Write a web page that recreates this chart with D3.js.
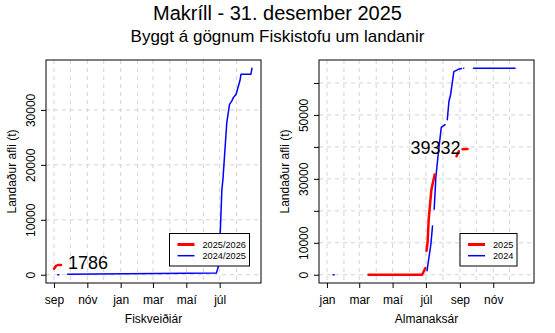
<!DOCTYPE html>
<html><head><meta charset="utf-8">
<script src="https://cdn.jsdelivr.net/npm/d3@7"></script>
<style>body{margin:0;background:#fff} svg{display:block;font-family:"Liberation Sans",Arial,Helvetica,sans-serif}</style>
</head><body><svg id="c" width="555" height="333"></svg>
<script>
const titleText = "Makríll - 31. desember 2025";
const subtitleText = "Byggt á gögnum Fiskistofu um landanir";
const monthLabels = ["jan","feb","mar","apr","maí","jún","júl","ágú","sep","okt","nóv","des"];
const yTitle = "Landaður afli (t)";

// Left panel: fishing year (Sep - Aug)
const fy2526Dates = ["2025-09-01","2025-09-05","2025-09-06","2025-09-08","2025-09-14"];
const fy2526Values = [1090, 1640, null, 1760, 1786];
const fy2425Dates = ["2024-09-08","2024-09-10","2024-09-11","2024-09-26","2025-06-25","2025-06-29","2025-07-02","2025-07-05","2025-07-07","2025-07-14","2025-07-19","2025-07-23","2025-07-26","2025-07-31","2025-08-07","2025-08-09","2025-08-27","2025-08-29"];
const fy2425Values = [0, 0, null, 100, 300, 1640, 7580, 15450, 17400, 27700, 31000, 31600, 32240, 32850, 35300, 36480, 36480, 37580];
const leftYTicks = [0, 10000, 20000, 30000];
const leftYLabels = [0, 10000, 20000, 30000];
const leftLegend = ["2025/2026", "2024/2025"];
const leftXTitle = "Fiskveiðiár";

// Right panel: calendar year
const cal2025Dates = ["2025-03-18","2025-06-24","2025-06-30","2025-07-01","2025-07-02","2025-07-04","2025-07-06","2025-07-11","2025-07-13","2025-07-17","2025-07-18","2025-08-26","2025-08-30","2025-08-31","2025-09-06","2025-09-15"];
const cal2025Values = [0, 0, 2090, null, 7480, 10100, 17350, 26700, 28260, 31370, null, 37070, 38630, null, 39300, 39332];
const cal2024Dates = ["2024-01-12","2024-01-14","2024-01-15","2024-07-03","2024-07-10","2024-07-13","2024-07-14","2024-07-16","2024-07-18","2024-07-19","2024-07-24","2024-07-29","2024-08-05","2024-08-07","2024-08-09","2024-08-12","2024-08-15","2024-08-21","2024-08-31","2024-09-04","2024-09-05","2024-09-08","2024-09-09","2024-09-26","2024-12-11"];
const cal2024Values = [0, 0, null, 1250, 9560, 15260, null, 20470, 26700, 30340, 38630, 46100, 46950, null, 48500, 54200, 56300, 63550, 64400, 64500, null, 64600, null, 64600, 64600];
const rightYTicks = [0, 10000, 20000, 30000, 40000, 50000, 60000];
const rightYLabels = [0, 10000, 30000, 50000];
const rightLegend = ["2025", "2024"];
const rightXTitle = "Almanaksár";

const parse = d3.timeParse("%Y-%m-%d");
const svg = d3.select("#c");
svg.append("rect").attr("width",555).attr("height",333).attr("fill","#fff");
svg.append("text").attr("x",277.5).attr("y",19.5).attr("text-anchor","middle").attr("font-size",20).text(titleText);
svg.append("text").attr("x",277.5).attr("y",41.5).attr("text-anchor","middle").attr("font-size",17).text(subtitleText);

const TOP = 60, BOT = 283;

function panel(cfg){
  const g = svg.append("g");
  const xs = parse(cfg.start), xe = parse(cfg.end);
  const pad = (xe - xs) * 0.04;
  const x = d3.scaleTime().domain([new Date(+xs - pad), new Date(+xe + pad)]).range([cfg.L, cfg.R]);
  const series = cfg.series.map(s => s.dates.map((d,i) => ({date: d3.timeYear.offset(parse(d), s.shift), v: s.values[i]})));
  const ymax = d3.max(series.flat(), d => d.v);
  const y = d3.scaleLinear().domain([-0.04*ymax, 1.04*ymax]).range([BOT, TOP]);

  // grid
  const months = d3.timeMonth.range(xs, d3.timeDay.offset(xe,1));
  g.selectAll(".vg").data(months).join("line")
    .attr("x1", d=>x(d)).attr("x2", d=>x(d)).attr("y1",TOP).attr("y2",BOT)
    .attr("stroke","#d3d3d3").attr("stroke-dasharray","4,4");
  g.selectAll(".hg").data(cfg.yTicks).join("line")
    .attr("x1",cfg.L).attr("x2",cfg.R).attr("y1",d=>y(d)).attr("y2",d=>y(d))
    .attr("stroke","#d3d3d3").attr("stroke-dasharray","4,4");

  // lines
  const line = d3.line().defined(d => d.v != null).x(d => x(d.date)).y(d => y(d.v));
  const order = [1,0];
  order.forEach(i => {
    g.append("path").datum(series[i]).attr("d", line).attr("fill","none")
      .attr("stroke", cfg.series[i].color).attr("stroke-width", cfg.series[i].width)
      .attr("stroke-linecap","round").attr("stroke-linejoin","round");
  });

  // value label for first series
  const last = series[0].filter(d => d.v != null).slice(-1)[0];
  g.append("text").attr("x", x(last.date) + (cfg.labelSide === "right" ? 7 : -7))
    .attr("y", y(last.v) + 4.5).attr("font-size",18)
    .attr("text-anchor", cfg.labelSide === "right" ? "start" : "end").text(last.v);

  // axes
  const ticks = months.filter((d,i) => i % 2 === 0);
  const xa = g.append("g").attr("transform",`translate(0,${BOT})`)
    .call(d3.axisBottom(x).tickValues(ticks).tickSize(5).tickSizeOuter(0).tickFormat(d => monthLabels[d.getMonth()]));
  xa.select(".domain").remove();
  xa.attr("color","#000").selectAll("text").attr("font-size",12).attr("y",12.5).attr("font-family",null);
  xa.attr("font-family",null);
  const ya = g.append("g").attr("transform",`translate(${cfg.L},0)`)
    .call(d3.axisLeft(y).tickValues(cfg.yTicks).tickSize(5).tickSizeOuter(0).tickFormat(d => cfg.yLabels.includes(d) ? String(d) : ""));
  ya.select(".domain").remove();
  ya.attr("color","#000").attr("font-family",null);
  ya.selectAll("text").attr("font-size",12).attr("transform","rotate(-90)")
    .attr("x",0).attr("y",-11).attr("dy",0).attr("text-anchor","middle");

  // box
  g.append("rect").attr("x",cfg.L).attr("y",TOP).attr("width",cfg.R-cfg.L).attr("height",BOT-TOP)
    .attr("fill","none").attr("stroke","#000").attr("stroke-width",1);

  // titles
  g.append("text").attr("x",(cfg.L+cfg.R)/2).attr("y",323).attr("text-anchor","middle").attr("font-size",12).text(cfg.xTitle);
  g.append("text").attr("transform",`translate(${cfg.L-30},${(TOP+BOT)/2}) rotate(-90)`)
    .attr("text-anchor","middle").attr("font-size",12).text(yTitle);

  // legend
  const lg = g.append("g");
  lg.append("rect").attr("x",cfg.legX).attr("y",233.5).attr("width",cfg.legW).attr("height",32.5)
    .attr("fill","#fff").attr("stroke","#000").attr("stroke-width",1);
  cfg.legend.forEach((t,i) => {
    const yy = 244.5 + i*11.2;
    lg.append("line").attr("x1",cfg.legX+8).attr("x2",cfg.legX+25).attr("y1",yy).attr("y2",yy)
      .attr("stroke",cfg.series[i].color).attr("stroke-width", i===0 ? 3 : 1.5);
    lg.append("text").attr("x",cfg.legX+33).attr("y",yy+3.3).attr("font-size",9.2).attr("fill","#000").text(t);
  });
}

panel({L:46, R:261, start:"2024-09-01", end:"2025-08-31",
  series:[{dates:fy2526Dates, values:fy2526Values, shift:-1, color:"#ff0000", width:2.5},
          {dates:fy2425Dates, values:fy2425Values, shift:0, color:"#0000ff", width:1.5}],
  yTicks:leftYTicks, yLabels:leftYLabels, legend:leftLegend, xTitle:leftXTitle,
  labelSide:"right", legX:169.5, legW:80});
panel({L:319, R:534, start:"2025-01-01", end:"2025-12-31",
  series:[{dates:cal2025Dates, values:cal2025Values, shift:0, color:"#ff0000", width:2.5},
          {dates:cal2024Dates, values:cal2024Values, shift:1, color:"#0000ff", width:1.5}],
  yTicks:rightYTicks, yLabels:rightYLabels, legend:rightLegend, xTitle:rightXTitle,
  labelSide:"left", legX:460, legW:57});
</script></body></html>
